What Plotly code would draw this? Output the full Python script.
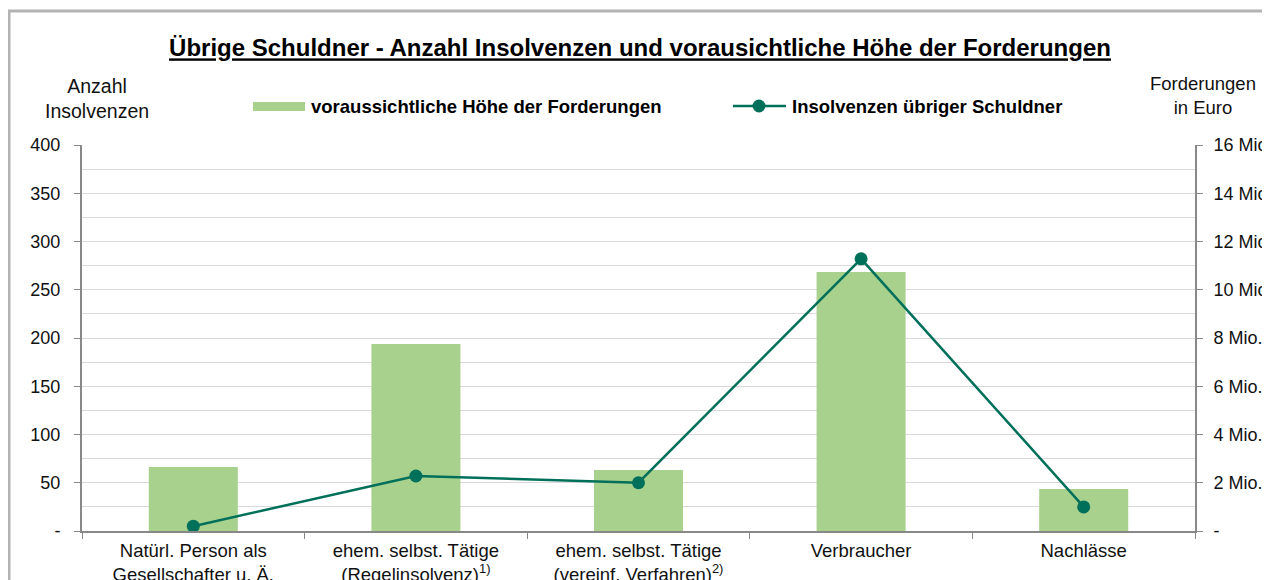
import plotly.graph_objects as go

categories = [
    "Natürl. Person als<br>Gesellschafter u. Ä.",
    "ehem. selbst. Tätige<br>(Regelinsolvenz)<sup>1)</sup>",
    "ehem. selbst. Tätige<br>(vereinf. Verfahren)<sup>2)</sup>",
    "Verbraucher",
    "Nachlässe",
]
forderungen_euro = [2.65e6, 7.75e6, 2.53e6, 10.74e6, 1.74e6]
insolvenzen = [5, 57, 50, 282, 25]

left_tickvals = [0, 50, 100, 150, 200, 250, 300, 350, 400]
left_ticktext = ["-", "50", "100", "150", "200", "250", "300", "350", "400"]
right_tickvals = [0, 2e6, 4e6, 6e6, 8e6, 10e6, 12e6, 14e6, 16e6]
right_ticktext = ["-", "2 Mio.", "4 Mio.", "6 Mio.", "8 Mio.", "10 Mio.", "12 Mio.", "14 Mio.", "16 Mio."]

BAR = "#a9d18e"
LINE = "#00705a"
AXIS = "#888888"
GRID = "#d9d9d9"
FONT = "Liberation Sans"

OFF = 8  # page body margin
W, H = 1270 - OFF, 580 - OFF
# target plot area in screen pixels: x 82..1195, y 145..531
L = 82 - OFF
T = 145 - OFF
R = W - (1195 - OFF)
B = H - (531 - OFF)
PW = W - L - R
PH = H - T - B


def px(x):
    return (x - OFF - L) / PW


def py(y):
    return (H - B - (y - OFF)) / PH


fig = go.Figure()
fig.add_trace(go.Bar(
    x=categories, y=forderungen_euro, yaxis="y", width=0.4,
    marker=dict(color=BAR, line=dict(width=0)),
    name="voraussichtliche Höhe der Forderungen", showlegend=False,
))
fig.add_trace(go.Scatter(
    x=categories, y=insolvenzen, yaxis="y2", mode="lines+markers",
    line=dict(color=LINE, width=2.5), marker=dict(color=LINE, size=13),
    name="Insolvenzen übriger Schuldner", showlegend=False,
))

fig.update_layout(
    width=W, height=H,
    margin=dict(l=L, r=R, t=T, b=B, autoexpand=False),
    paper_bgcolor="white", plot_bgcolor="white",
    font=dict(family=FONT, size=18, color="#111111"),
    title=dict(
        text="<b><u>Übrige Schuldner - Anzahl Insolvenzen und vorausichtliche Höhe der Forderungen</u></b>",
        x=(640 - OFF) / W, xanchor="center", y=1 - (48 - OFF) / H, yanchor="middle",
        font=dict(family=FONT, size=24, color="#000000"),
    ),
    xaxis=dict(
        type="category", showline=True, linecolor=AXIS, linewidth=2,
        ticks="outside", tickson="boundaries", ticklen=6, tickcolor=AXIS, tickwidth=1,
        showgrid=False, tickfont=dict(size=18.5), ticklabelstandoff=2, automargin=False,
    ),
    yaxis=dict(
        side="right", range=[0, 16e6], tickvals=right_tickvals, ticktext=right_ticktext,
        showline=True, linecolor=AXIS, linewidth=2, ticks="outside", ticklen=6,
        tickcolor=AXIS, showgrid=True, gridcolor=GRID, gridwidth=1,
        minor=dict(dtick=1e6, showgrid=True, gridcolor=GRID, gridwidth=1, ticklen=0),
        zeroline=False, tickfont=dict(size=18), ticklabelstandoff=7, automargin=False,
    ),
    yaxis2=dict(
        side="left", overlaying="y", range=[0, 400], tickvals=left_tickvals, ticktext=left_ticktext,
        showline=True, linecolor=AXIS, linewidth=2, ticks="outside", ticklen=6,
        tickcolor=AXIS, showgrid=False, zeroline=False, tickfont=dict(size=18),
        ticklabelstandoff=10, automargin=False,
    ),
    bargap=0.6,
)

shapes = [
    # outer frame
    dict(type="rect", xref="paper", yref="paper", x0=px(9), x1=px(1300), y0=py(620), y1=py(11),
         line=dict(color="#b3b3b3", width=3), fillcolor="rgba(0,0,0,0)", layer="below"),
    # legend: bar swatch
    dict(type="rect", xref="paper", yref="paper", x0=px(253), x1=px(305), y0=py(111), y1=py(102),
         line=dict(width=0), fillcolor=BAR),
    # legend: line swatch
    dict(type="line", xref="paper", yref="paper", x0=px(733), x1=px(786), y0=py(106), y1=py(106),
         line=dict(color=LINE, width=2.5)),
    dict(type="circle", xref="paper", yref="paper", x0=px(752.5), x1=px(765.5), y0=py(112.5), y1=py(99.5),
         line=dict(width=0), fillcolor=LINE),
]

annotations = [
    dict(text="<b>voraussichtliche Höhe der Forderungen</b>", xref="paper", yref="paper",
         x=px(309), y=py(106), xanchor="left", yanchor="middle", showarrow=False,
         font=dict(size=18.5, color="#000000")),
    dict(text="<b>Insolvenzen übriger Schuldner</b>", xref="paper", yref="paper",
         x=px(790), y=py(106), xanchor="left", yanchor="middle", showarrow=False,
         font=dict(size=18.5, color="#000000")),
    dict(text="Anzahl<br>Insolvenzen", xref="paper", yref="paper",
         x=px(97), y=py(98), xanchor="center", yanchor="middle", showarrow=False,
         align="center", font=dict(size=19.5)),
    dict(text="Forderungen<br>in Euro", xref="paper", yref="paper",
         x=px(1203), y=py(95), xanchor="center", yanchor="middle", showarrow=False,
         align="center", font=dict(size=18.5)),
]

fig.update_layout(shapes=shapes, annotations=annotations)
fig.write_html("out.html")
